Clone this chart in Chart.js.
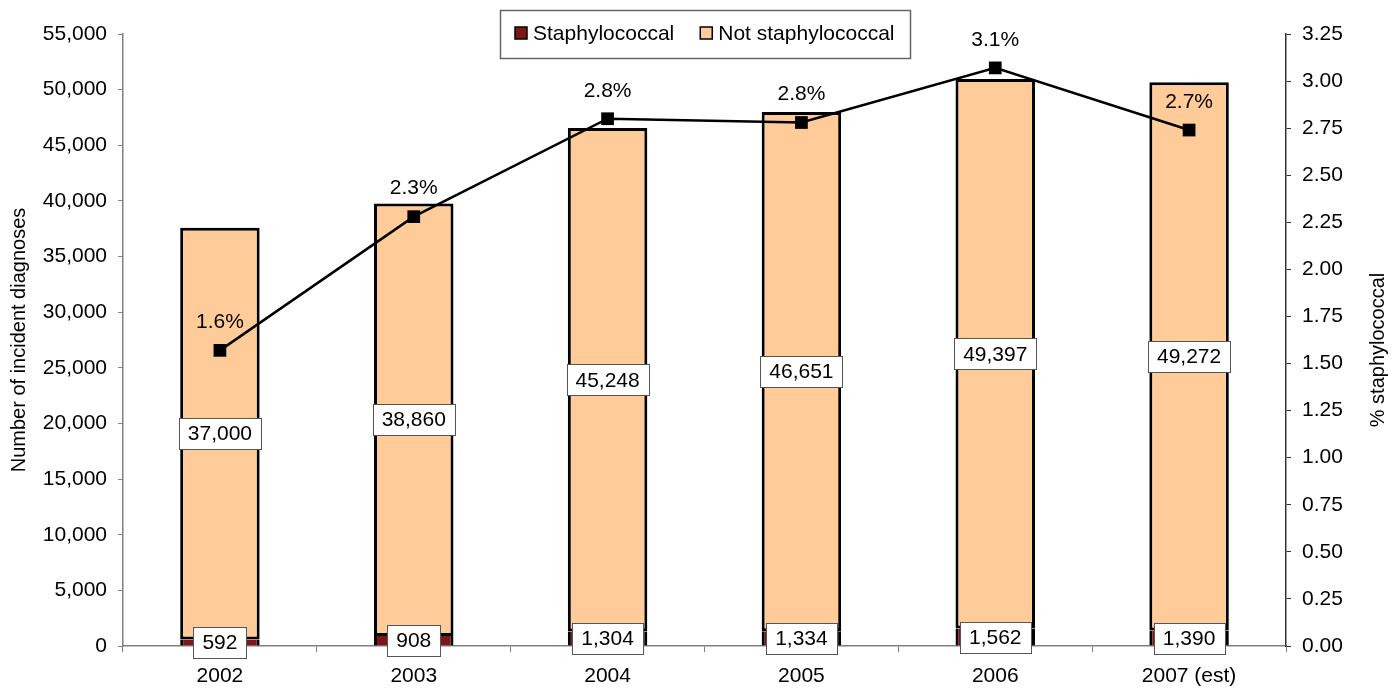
<!DOCTYPE html>
<html>
<head>
<meta charset="utf-8">
<script src="https://cdn.jsdelivr.net/npm/chart.js"></script>
<style>
  html, body { margin: 0; padding: 0; background: #fff; }
  #wrap { width: 1399px; height: 688px; }
</style>
</head>
<body>
<div id="wrap"><canvas id="chart" width="1399" height="688"></canvas></div>
<script>
(function () {
    "use strict";

    // -----------------------------------------------------------
    //  Data
    // -----------------------------------------------------------
    var years = ["2002", "2003", "2004", "2005", "2006", "2007 (est)"];
    var staph = [592, 908, 1304, 1334, 1562, 1390];
    var notStaph = [37000, 38860, 45248, 46651, 49397, 49272];
    var pctStaph = [1.57, 2.28, 2.80, 2.78, 3.07, 2.74];
    var pctLabels = ["1.6%", "2.3%", "2.8%", "2.8%", "3.1%", "2.7%"];

    var FONT = "'Liberation Sans', Arial, sans-serif";
    var FSIZE = 21;
    var RED = "#7f1518";
    var PEACH = "#ffcc99";

    function fmt(n) { return Number(n).toLocaleString("en-US"); }

    // -----------------------------------------------------------
    //  Labels, legend, axis titles
    // -----------------------------------------------------------
    var decorPlugin = {
        id: "decor",
        afterDatasetsDraw: function (chart) {
            var ctx = chart.ctx;
            ctx.save();
            ctx.font = FSIZE + "px " + FONT;
            ctx.textAlign = "center";
            ctx.textBaseline = "middle";

            [0, 1].forEach(function (di) {
                var meta = chart.getDatasetMeta(di);
                var vals = chart.data.datasets[di].data;
                meta.data.forEach(function (el, i) {
                    var txt = fmt(vals[i]);
                    var cy = (el.y + el.base) / 2;
                    var w = Math.round(ctx.measureText(txt).width + 18);
                    var h = 31;
                    var bx = Math.round(el.x - w / 2), by = Math.round(cy - h / 2);
                    ctx.fillStyle = "#fff";
                    ctx.fillRect(bx, by, w, h);
                    ctx.strokeStyle = "#555";
                    ctx.lineWidth = 1;
                    ctx.strokeRect(bx + 0.5, by + 0.5, w, h);
                    ctx.fillStyle = "#000";
                    ctx.fillText(txt, el.x, cy + 1);
                });
            });

            var lineMeta = chart.getDatasetMeta(2);
            ctx.fillStyle = "#000";
            lineMeta.data.forEach(function (pt, i) {
                ctx.fillText(pctLabels[i], pt.x, pt.y - 28);
            });
            ctx.restore();
        },
        afterDraw: function (chart) {
            var ctx = chart.ctx;
            var area = chart.chartArea;
            ctx.save();
            ctx.font = FSIZE + "px " + FONT;
            ctx.fillStyle = "#000";
            ctx.textBaseline = "middle";

            // legend
            var items = [
                { text: "Staphylococcal", color: RED },
                { text: "Not staphylococcal", color: PEACH }
            ];
            var sq = 12, gap = 6, between = 26, padX = 15;
            var total = padX * 2;
            items.forEach(function (it, i) {
                total += sq + gap + ctx.measureText(it.text).width + (i ? between : 0);
            });
            total = Math.round(total);
            var cx = (area.left + area.right) / 2;
            var lx = Math.round(cx - total / 2);
            var ly = 10, lh = 48;
            ctx.strokeStyle = "#666";
            ctx.lineWidth = 1.5;
            ctx.strokeRect(lx + 0.5, ly + 0.5, total, lh);
            var x = lx + padX;
            var my = ly + lh / 2;
            items.forEach(function (it, i) {
                if (i) x += between;
                ctx.fillStyle = it.color;
                ctx.fillRect(x, my - sq / 2 - 1, sq, sq);
                ctx.strokeStyle = "#000";
                ctx.lineWidth = 1.5;
                ctx.strokeRect(x, my - sq / 2 - 1, sq, sq);
                x += sq + gap;
                ctx.fillStyle = "#000";
                ctx.textAlign = "left";
                ctx.fillText(it.text, x, my);
                x += ctx.measureText(it.text).width;
            });

            // axis titles
            var cy = (area.top + area.bottom) / 2;
            ctx.font = "20px " + FONT;
            ctx.textAlign = "center";
            ctx.save();
            ctx.translate(19, cy);
            ctx.rotate(-Math.PI / 2);
            ctx.fillText("Number of incident diagnoses", 0, 0);
            ctx.restore();
            ctx.save();
            ctx.translate(1378, cy + 10);
            ctx.rotate(-Math.PI / 2);
            ctx.fillText("% staphylococcal", 0, 0);
            ctx.restore();
            ctx.restore();
        }
    };

    // -----------------------------------------------------------
    //  Chart
    // -----------------------------------------------------------
    Chart.defaults.font.family = FONT;
    Chart.defaults.font.size = FSIZE;
    Chart.defaults.color = "#000";

    function barSet(label, data, color, border) {
        return {
            label: label,
            data: data,
            backgroundColor: color,
            borderColor: "#000",
            borderWidth: border,
            borderSkipped: false,
            barPercentage: 0.41,
            categoryPercentage: 1,
            stack: "s",
            yAxisID: "y",
            order: 2
        };
    }

    new Chart(document.getElementById("chart"), {
        type: "bar",
        data: {
            labels: years,
            datasets: [
                barSet("Staphylococcal", staph, RED, { left: 3, right: 3, top: 0, bottom: 0 }),
                barSet("Not staphylococcal", notStaph, PEACH, 3),
                {
                    type: "line",
                    label: "% staphylococcal",
                    data: pctStaph,
                    borderColor: "#000",
                    borderWidth: 2.5,
                    backgroundColor: "#000",
                    pointStyle: "rect",
                    pointRadius: 9,
                    pointBorderWidth: 0,
                    tension: 0,
                    fill: false,
                    yAxisID: "y1",
                    order: 0
                }
            ]
        },
        options: {
            responsive: false,
            animation: false,
            events: [],
            layout: { padding: { top: 34, left: 0, right: 0, bottom: 0 } },
            plugins: {
                legend: { display: false },
                tooltip: { enabled: false }
            },
            scales: {
                x: {
                    stacked: true,
                    offset: true,
                    grid: {
                        offset: true,
                        drawOnChartArea: false,
                        tickLength: 6,
                        tickColor: "#808080"
                    },
                    border: { color: "#808080", width: 1.5 },
                    ticks: { padding: 12, maxRotation: 0, color: "#000" },
                    afterFit: function (s) { s.height = 42; }
                },
                y: {
                    stacked: true,
                    position: "left",
                    min: 0,
                    max: 55000,
                    grid: {
                        drawOnChartArea: false,
                        tickLength: 5,
                        tickColor: "#808080"
                    },
                    border: { color: "#808080", width: 1.5 },
                    ticks: {
                        stepSize: 5000,
                        padding: 11,
                        color: "#000",
                        callback: function (v) { return fmt(v); }
                    },
                    afterFit: function (s) { s.width = 123; }
                },
                y1: {
                    position: "right",
                    min: 0,
                    max: 3.25,
                    grid: {
                        drawOnChartArea: false,
                        tickLength: 5,
                        tickColor: "#333"
                    },
                    border: { color: "#333", width: 1.5 },
                    ticks: {
                        stepSize: 0.25,
                        padding: 11,
                        color: "#000",
                        callback: function (v) { return Number(v).toFixed(2); }
                    },
                    afterFit: function (s) { s.width = 113; }
                }
            }
        },
        plugins: [decorPlugin]
    });
})();
</script>
</body>
</html>
